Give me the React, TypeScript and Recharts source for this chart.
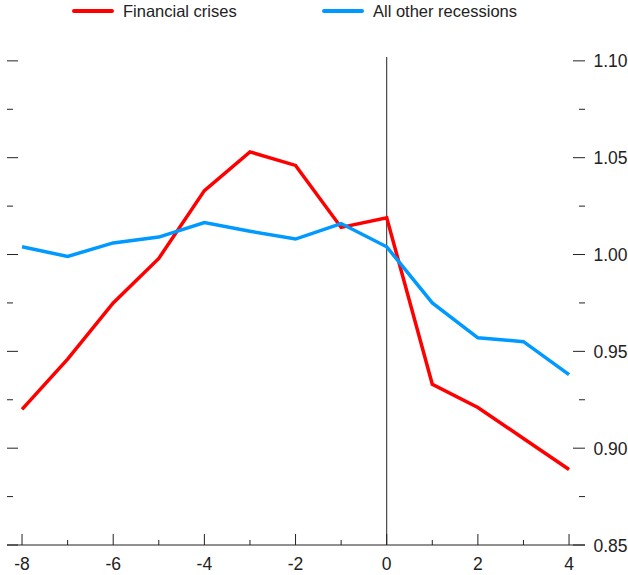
import React from 'react';
import { LineChart, Line, XAxis, YAxis, ReferenceLine, Legend } from 'recharts';

const years = [-8, -7, -6, -5, -4, -3, -2, -1, 0, 1, 2, 3, 4];
const financialCrises = [0.92, 0.946, 0.975, 0.998, 1.033, 1.053, 1.046, 1.014, 1.019, 0.933, 0.921, 0.905, 0.889];
const otherRecessions = [1.004, 0.999, 1.006, 1.009, 1.0165, 1.012, 1.008, 1.016, 1.004, 0.975, 0.957, 0.955, 0.938];
const xTicks = [-8, -7, -6, -5, -4, -3, -2, -1, 0, 1, 2, 3, 4];
const xLabelTicks = [-8, -6, -4, -2, 0, 2, 4];
const yTicks = [0.85, 0.875, 0.9, 0.925, 0.95, 0.975, 1.0, 1.025, 1.05, 1.075, 1.1];
const yLabelTicks = ['0.85', '0.90', '0.95', '1.00', '1.05', '1.10'];
const seriesNames = ['Financial crises', 'All other recessions'];
const seriesColors = ['#ff0000', '#0099ff'];

const data = years.map((y, i) => ({ x: y, fc: financialCrises[i], or: otherRecessions[i] }));

const FONT = '"Liberation Sans", Arial, sans-serif';

const isMajorY = (v: number) => yLabelTicks.includes(v.toFixed(2));

const XTick = (props: any) => {
  const { x, y, payload } = props;
  const v = payload.value;
  const major = xLabelTicks.includes(v);
  return (
    <g>
      <line x1={x} x2={x} y1={y} y2={y - (major ? 11 : 5)} stroke="#222" strokeWidth={1} />
      {major && (
        <text x={x} y={y + 25} textAnchor="middle" fontSize={17.5} fontFamily={FONT} fill="#222">
          {v}
        </text>
      )}
    </g>
  );
};

const RightTick = (props: any) => {
  const { x, y, payload } = props;
  const v = payload.value as number;
  const major = isMajorY(v);
  return (
    <g>
      <line x1={x - (major ? 12 : 6)} x2={x} y1={y} y2={y} stroke="#222" strokeWidth={1} />
      {major && (
        <text x={x + 8.5} y={y + 6.5} textAnchor="start" fontSize={17.5} fontFamily={FONT} fill="#222">
          {v.toFixed(2)}
        </text>
      )}
    </g>
  );
};

const LeftTick = (props: any) => {
  const { x, y, payload } = props;
  const v = payload.value as number;
  const major = isMajorY(v);
  return <line x1={x} x2={x + (major ? 11 : 6)} y1={y} y2={y} stroke="#222" strokeWidth={1} />;
};

const LegendContent = () => (
  <div style={{ position: 'relative', height: 22, width: 628, fontFamily: FONT, fontSize: 16.5, color: '#222' }}>
    {seriesNames.map((name, i) => (
      <div
        key={name}
        style={{ position: 'absolute', left: i === 0 ? 72 : 322, top: 0, display: 'flex', alignItems: 'center', height: 22 }}
      >
        <span style={{ display: 'inline-block', width: 42, height: 4, borderRadius: 2, background: seriesColors[i], marginRight: 9 }} />
        <span>{name}</span>
      </div>
    ))}
  </div>
);

export default function App() {
  return (
    <div style={{ position: 'absolute', left: 0, top: 0, background: '#fff' }}>
      <LineChart width={628} height={575} data={data} margin={{ top: 35, right: 0, left: 6, bottom: 0 }}>
        <Legend
          verticalAlign="top"
          align="left"
          content={<LegendContent />}
          wrapperStyle={{ left: 0, top: 0, width: 628, height: 22 }}
        />
        <XAxis
          dataKey="x"
          type="number"
          domain={[-8.33, 4.35]}
          ticks={xTicks}
          interval={0}
          height={30}
          tickSize={0}
          tickMargin={0}
          tickLine={false}
          axisLine={{ stroke: '#222', strokeWidth: 1 }}
          tick={<XTick />}
          allowDataOverflow
        />
        <YAxis
          yAxisId="right"
          orientation="right"
          domain={[0.85, 1.102]}
          ticks={yTicks}
          interval={0}
          width={43}
          tickSize={0}
          tickMargin={0}
          tickLine={false}
          axisLine={false}
          tick={<RightTick />}
          allowDataOverflow
        />
        <YAxis
          yAxisId="left"
          orientation="left"
          domain={[0.85, 1.102]}
          ticks={yTicks}
          interval={0}
          width={1}
          tickSize={0}
          tickMargin={0}
          tickLine={false}
          axisLine={false}
          tick={<LeftTick />}
          allowDataOverflow
        />
        <ReferenceLine yAxisId="right" x={0} stroke="#222" strokeWidth={1} />
        <Line
          yAxisId="right"
          dataKey="fc"
          name={seriesNames[0]}
          stroke={seriesColors[0]}
          strokeWidth={3.5}
          dot={false}
          isAnimationActive={false}
        />
        <Line
          yAxisId="right"
          dataKey="or"
          name={seriesNames[1]}
          stroke={seriesColors[1]}
          strokeWidth={3.5}
          dot={false}
          isAnimationActive={false}
        />
      </LineChart>
    </div>
  );
}
